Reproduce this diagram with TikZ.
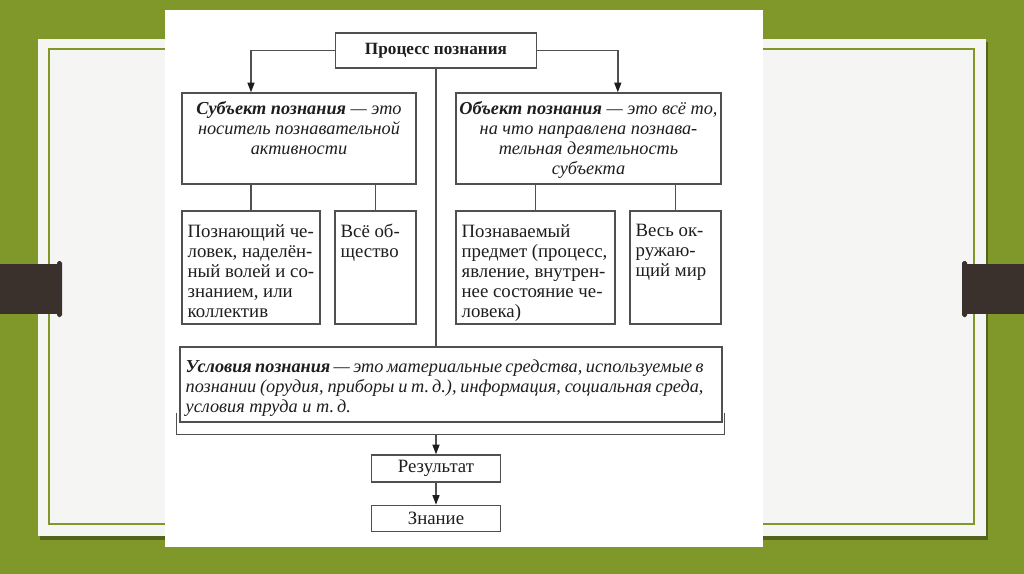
\documentclass[tikz,border=0pt]{standalone}
\usepackage{fontspec}
\setmainfont{Liberation Serif}
\usepackage{xcolor}
\usepackage{tikz}
\usetikzlibrary{arrows.meta, positioning, calc}

\definecolor{olivebg}{RGB}{128,152,42}
\definecolor{tabbrown}{RGB}{58,49,45}
\definecolor{panelgray}{RGB}{245,245,244}
\definecolor{linegray}{RGB}{80,80,80}
\definecolor{inkblack}{RGB}{30,30,30}
\newcommand{\spreadline}[1]{\makebox[10.36cm][s]{#1}}

\begin{document}
\begin{tikzpicture}[
  x=0.02cm, y=-0.02cm,
  font=\fontsize{10.7}{11.4}\selectfont,
  boxnode/.style={rectangle, draw=linegray, line width=0.8pt, inner sep=0pt, text=inkblack},
  deftxt/.style={align=center, inner sep=0pt, text=inkblack, font=\fontsize{10.4}{11.4}\selectfont\itshape},
  itemtxt/.style={align=left, inner sep=0pt, text=inkblack},
  link/.style={draw=linegray, line width=0.8pt},
  arr/.style={link, -{Triangle[length=5.5pt, width=4pt, color=inkblack]}}
]
\useasboundingbox (0,0) rectangle (1024,574);
% slide behind the scan
\fill[olivebg] (0,0) rectangle (1024,574);
\fill[black!35!olivebg] (40,42) rectangle (988,540);
\fill[panelgray] (38,39) rectangle (986,536);
\draw[olivebg, line width=0.9pt] (49,49) rectangle (974,524);
\fill[tabbrown] (0,264) rectangle (60,314);
\fill[tabbrown, rounded corners=1pt] (57,261) rectangle (62,317);
\fill[tabbrown] (964,264) rectangle (1024,314);
\fill[tabbrown, rounded corners=1pt] (962,261) rectangle (967,317);
\fill[white] (165,10) rectangle (763,547);

% boxes
\node[boxnode, minimum width=201*0.02cm, minimum height=35*0.02cm, font=\fontsize{9.8}{11.4}\selectfont\bfseries] (proc) at (436,50.5) {Процесс познания};
\node[boxnode, minimum width=234*0.02cm, minimum height=91*0.02cm] (subj) at (299,138.5) {};
\node[boxnode, minimum width=265*0.02cm, minimum height=91*0.02cm] (obj) at (588.5,138.5) {};
\node[boxnode, minimum width=138*0.02cm, minimum height=113*0.02cm] (sa) at (251,267.5) {};
\node[boxnode, minimum width=81*0.02cm, minimum height=113*0.02cm] (sb) at (375.5,267.5) {};
\node[boxnode, minimum width=159*0.02cm, minimum height=113*0.02cm] (sc) at (535.5,267.5) {};
\node[boxnode, minimum width=91*0.02cm, minimum height=113*0.02cm] (sd) at (675.5,267.5) {};
\node[boxnode, minimum width=542*0.02cm, minimum height=75*0.02cm] (cond) at (451,384.5) {};
\node[boxnode, minimum width=129*0.02cm, minimum height=27*0.02cm] (res) at (436,468.5) {Результат};
\node[boxnode, minimum width=129*0.02cm, minimum height=26*0.02cm, below=0.44cm of res] (know) {Знание};

% texts
\node[deftxt, below=0.18cm of subj.north] (subjtxt) {\textbf{Субъект познания} — это\\носитель познавательной\\активности};
\node[deftxt, below=0.18cm of obj.north] (objtxt) {\textbf{Объект познания} — это всё то,\\на что направлена познава-\\тельная деятельность\\субъекта};
\node[itemtxt, below right=0.27cm and 0.12cm of sa.north west] (satxt) {Познающий че-\\ловек, наделён-\\ный волей и со-\\знанием, или\\коллектив};
\node[itemtxt, below right=0.27cm and 0.12cm of sb.north west] (sbtxt) {Всё об-\\щество};
\node[itemtxt, below right=0.27cm and 0.12cm of sc.north west] (sctxt) {Познаваемый\\предмет (процесс,\\явление, внутрен-\\нее состояние че-\\ловека)};
\node[itemtxt, below right=0.27cm and 0.12cm of sd.north west] (sdtxt) {Весь ок-\\ружаю-\\щий мир};
\node[itemtxt, font=\fontsize{10.4}{11.4}\selectfont\itshape, below right=0.27cm and 0.12cm of cond.north west] (condtxt) {\spreadline{\textbf{Условия познания} — это материальные средства, используемые в}\\\spreadline{познании (орудия, приборы и т.\,д.), информация, социальная среда,}\\условия труда и т.\,д.};

% connectors
\coordinate (objin) at ($(obj.north west)!0.61!(obj.north east)$);
\draw[arr] (proc.west) -| (subj.north -| sa.north);
\draw[arr] (proc.east) -| (objin);
\draw[link] (proc.south) -- (proc.south |- cond.north);
\draw[link] (subj.south -| sa.north) -- (sa.north);
\draw[link] (subj.south -| sb.north) -- (sb.north);
\draw[link] (obj.south -| sc.north) -- (sc.north);
\draw[link] (obj.south -| sd.north) -- (sd.north);
\coordinate (brl) at ($(cond.south west)+(-3,-10)$);
\coordinate (brr) at ($(cond.south east)+(2,-10)$);
\coordinate (brb) at ($(brl)+(0,22)$);
\draw[link] (brl) |- (brb) -| (brr);
\draw[arr] (brb -| res.north) -- (res.north);
\draw[arr] (res) -- (know);
\end{tikzpicture}
\end{document}
